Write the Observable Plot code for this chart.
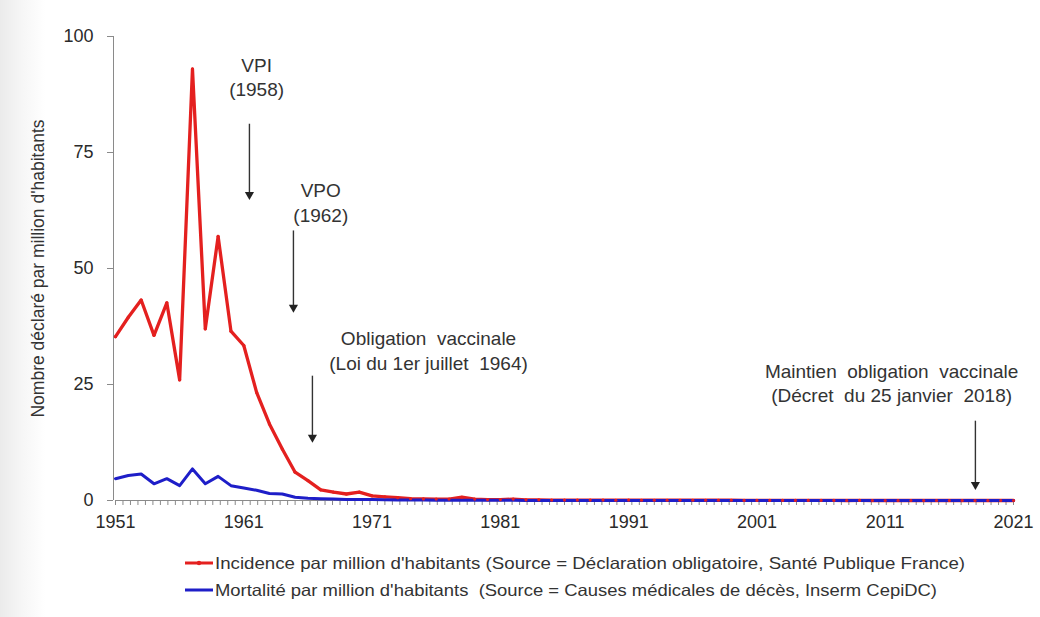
<!DOCTYPE html>
<html>
<head>
<meta charset="utf-8">
<script src="https://cdn.jsdelivr.net/npm/d3@7"></script>
<script src="https://cdn.jsdelivr.net/npm/@observablehq/plot@0.6"></script>
<style>
  body { margin: 0; background: #fff; font-family: "Liberation Sans", Arial, sans-serif; }
  #wrap { width: 1040px; height: 617px; background: linear-gradient(to right, #ebebeb 0px, #f6f6f6 22px, #fff 45px); }
  #wrap svg text { white-space: pre; }
  #legend { display: block; }
</style>
</head>
<body>
<div id="wrap"></div>
<script>
// ---- data ----
const years = d3.range(1951, 2022);
const incidence = [
  35.3, 39.5, 43.2, 35.6, 42.6, 26.0, 93.0, 37.0, 56.9, 36.5,   // 1951-1960
  33.4, 23.3, 16.5, 11.1, 6.1, 4.3, 2.3, 1.8, 1.4, 1.8,        // 1961-1970
  1.0, 0.8, 0.6, 0.4, 0.35, 0.3, 0.3, 0.7, 0.3, 0.2,           // 1971-1980
  0.2, 0.3, 0.15, 0.15, 0.1, 0.1, 0.1, 0.1, 0.1, 0.05,         // 1981-1990
  0.1, 0.05, 0.05, 0.05, 0.05, 0.05, 0.05, 0.05, 0.05, 0.02,   // 1991-2000
  0.02, 0.02, 0.02, 0.02, 0.02, 0.02, 0.02, 0.0, 0.02, 0.0,    // 2001-2010
  0.0, 0.0, 0.0, 0.0, 0.0, 0.0, 0.0, 0.0, 0.0, 0.0, 0.0        // 2011-2021
];
const mortality = [
  4.7, 5.4, 5.7, 3.6, 4.7, 3.2, 6.8, 3.6, 5.2, 3.2,            // 1951-1960
  2.7, 2.2, 1.5, 1.4, 0.7, 0.5, 0.4, 0.3, 0.2, 0.2,            // 1961-1970
  0.2, 0.15, 0.1, 0.1, 0.1, 0.05, 0.05, 0.05, 0.05, 0.05,      // 1971-1980
  0.05, 0.05, 0.02, 0.02, 0.02, 0.02, 0.02, 0.02, 0.02, 0.02,  // 1981-1990
  0.0, 0.0, 0.0, 0.0, 0.0, 0.0, 0.0, 0.0, 0.0, 0.0,            // 1991-2000
  0.0, 0.0, 0.0, 0.0, 0.0, 0.0, 0.0, 0.0, 0.0, 0.0,            // 2001-2010
  0.0, 0.0, 0.0, 0.0, 0.0, 0.0, 0.0, 0.0, 0.0, 0.0, 0.0        // 2011-2021
];
const xTickLabels = [1951, 1961, 1971, 1981, 1991, 2001, 2011, 2021];
const yTickLabels = [0, 25, 50, 75, 100];
const yAxisTitle = "Nombre déclaré par million d'habitants";

const annotationLabels = ["VPI\n(1958)", "VPO\n(1962)", "Obligation  vaccinale\n(Loi du 1er juillet  1964)", "Maintien  obligation  vaccinale\n(Décret  du 25 janvier  2018)"];
const annotationX = [1962.0, 1967.0, 1975.4, 2011.5];
const annotationY = [91.5, 64.4, 32.5, 25.5];
const arrowX = [1961.44, 1964.87, 1966.35, 2018.03];
const arrowTop = [81.2, 58.2, 26.9, 17.2];
const arrowBottom = [65.9, 41.6, 13.6, 3.4];

const seriesNames = [
  "Incidence par million d'habitants (Source = Déclaration obligatoire, Santé Publique France)",
  "Mortalité par million d'habitants  (Source = Causes médicales de décès, Inserm CepiDC)"
];
const seriesColors = ["#e4201f", "#1e1ec8"];

// ---- tables built from the arrays ----
const inc = years.map((y, i) => ({year: y, value: incidence[i]}));
const mor = years.map((y, i) => ({year: y, value: mortality[i]}));
const notes = annotationLabels.map((t, i) => ({label: t, x: annotationX[i], y: annotationY[i]}));
const arrows = arrowX.map((x, i) => ({x, y1: arrowTop[i], y2: arrowBottom[i]}));
const minorTicks = d3.range(0, 121).map(i => 1951 + i * 70 / 120);

const chart = Plot.plot({
  width: 1040,
  height: 538,
  marginLeft: 115,
  marginRight: 27,
  marginTop: 36,
  marginBottom: 38,
  x: {domain: [1951, 2021]},
  y: {domain: [0, 100]},
  style: {fontFamily: "'Liberation Sans', Arial, sans-serif", background: "transparent", color: "#2a2a2a"},
  marks: [
    Plot.axisY({ticks: yTickLabels, tickSize: 6, tickPadding: 14, fontSize: 18, label: null, stroke: "#8a8a8a", dx: -2}),
    Plot.axisX({ticks: minorTicks, tickSize: 5, tickFormat: () => "", label: null, stroke: "#8a8a8a"}),
    Plot.axisX({ticks: xTickLabels, tickSize: 0, tickPadding: 15, tickFormat: d => String(d), fontSize: 18, label: null}),
    Plot.ruleY([0], {stroke: "#8a8a8a", strokeWidth: 1}),
    Plot.ruleX([1951], {stroke: "#8a8a8a", strokeWidth: 1, dx: -2}),
    Plot.line(inc, {x: "year", y: "value", stroke: seriesColors[0], strokeWidth: 3.3, strokeLinejoin: "round"}),
    Plot.line(mor, {x: "year", y: "value", stroke: seriesColors[1], strokeWidth: 3, strokeLinejoin: "round"}),
    Plot.dot(inc, {x: "year", y: "value", r: 1.6, fill: seriesColors[0]}),
    Plot.link(arrows, {x1: "x", x2: "x", y1: "y1", y2: "y2", stroke: "#333", strokeWidth: 1.4}),
    Plot.dot(arrows, {x: "x", y: "y2", symbol: "triangle", rotate: 180, r: 3.4, fill: "#222", stroke: "none"}),
    Plot.text(notes, {x: "x", y: "y", text: "label", fontSize: 19, lineHeight: 1.3, fill: "#333", textAnchor: "middle", lineAnchor: "middle", ariaLabel: "annotation"}),
    Plot.text([yAxisTitle], {text: d => d, frameAnchor: "left", rotate: -90, dx: -77, fontSize: 17.5, fill: "#333", textAnchor: "middle"})
  ]
});

// widen the annotation glyphs horizontally like the reference
d3.select(chart).selectAll('g[aria-label="annotation"] text').each(function() {
  const t = this.getAttribute("transform");
  if (t) this.setAttribute("transform", t + " scale(1.14,1)");
});

const wrap = document.getElementById("wrap");
wrap.appendChild(chart);

// ---- legend below the chart ----
const legend = d3.create("svg").attr("id", "legend").attr("width", 1040).attr("height", 79)
  .style("font-family", "'Liberation Sans', Arial, sans-serif");
const legendWidths = [750, 722];
seriesNames.forEach((name, i) => {
  const cy = 25 + i * 27;
  legend.append("line").attr("x1", 185).attr("x2", 213).attr("y1", cy).attr("y2", cy)
    .attr("stroke", seriesColors[i]).attr("stroke-width", 3);
  if (i === 0) legend.append("circle").attr("cx", 199).attr("cy", cy).attr("r", 2.2).attr("fill", seriesColors[i]);
  legend.append("text").attr("x", 215).attr("y", cy).attr("dy", "0.35em")
    .attr("font-size", 16.5).attr("fill", "#333")
    .attr("textLength", legendWidths[i]).attr("lengthAdjust", "spacingAndGlyphs")
    .style("white-space", "pre")
    .text(name);
});
wrap.appendChild(legend.node());
</script>
</body>
</html>
